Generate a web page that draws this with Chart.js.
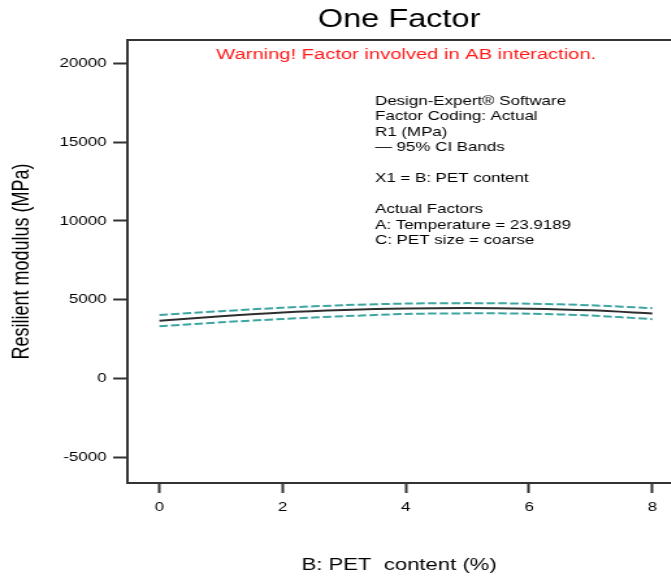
<!DOCTYPE html>
<html><head><meta charset="utf-8">
<script src="https://cdn.jsdelivr.net/npm/chart.js@4.4.1/dist/chart.umd.min.js"></script>
<style>
html,body{margin:0;padding:0;background:#fff;overflow:hidden;}
#wrap{width:516px;height:578px;transform:scaleX(1.3);transform-origin:0 0;}
canvas{display:block;}
</style></head><body>
<div id="wrap"><canvas id="c" width="516" height="578"></canvas></div>
<script>
// PET content (%) and predicted resilient modulus (MPa) with 95% CI bands
const petContent = [0, 1, 2, 3, 4, 5, 6, 7, 8];
const predicted  = [3660, 3950, 4190, 4345, 4440, 4470, 4430, 4320, 4120];
const upperCI    = [4025, 4270, 4490, 4650, 4750, 4780, 4745, 4640, 4460];
const lowerCI    = [3305, 3560, 3770, 3950, 4090, 4130, 4110, 3990, 3760];
const xTicks = [0, 2, 4, 6, 8];
const yTicks = [-5000, 0, 5000, 10000, 15000, 20000];
const titleText = 'One Factor';
const xTitle = 'B: PET  content (%)';
const yTitle = 'Resilient modulus (MPa)';
const warningText = 'Warning! Factor involved in AB interaction.';
const infoLines = ['Design-Expert® Software', 'Factor Coding: Actual', 'R1 (MPa)', '— 95% CI Bands', '',
  'X1 = B: PET content', '', 'Actual Factors', 'A: Temperature = 23.9189', 'C: PET size = coarse'];

const FONT = "'Liberation Sans', Arial, sans-serif";
const AXIS = '#333333';
const TEAL = '#3ca5a0';

const pts = ys => petContent.map((x, i) => ({x, y: ys[i]}));

const annot = {
  id: 'annot',
  afterDraw(chart) {
    const {ctx, chartArea: a} = chart;
    ctx.save();
    // top frame line
    ctx.strokeStyle = AXIS; ctx.lineWidth = 2;
    ctx.beginPath(); ctx.moveTo(a.left - 1, a.top); ctx.lineTo(a.right + 2, a.top); ctx.stroke();
    // warning
    ctx.fillStyle = '#ff1a1a';
    ctx.font = `15.5px ${FONT}`;
    ctx.textAlign = 'center'; ctx.textBaseline = 'middle';
    ctx.fillText(warningText, 312.5, 55);
    // info block
    ctx.fillStyle = '#000';
    ctx.font = `13px ${FONT}`;
    ctx.textAlign = 'left';
    infoLines.forEach((t, i) => { if (t) ctx.fillText(t, 288.5, 101 + i * 15.5); });
    ctx.restore();
  }
};

const setTicks = arr => scale => { scale.ticks = arr.map(v => ({value: v})); };

new Chart(document.getElementById('c'), {
  type: 'line',
  data: {
    datasets: [
      {data: pts(upperCI), borderColor: TEAL, borderWidth: 2, borderDash: [6.5, 2.5], pointRadius: 0, tension: 0.3, fill: false},
      {data: pts(lowerCI), borderColor: TEAL, borderWidth: 2, borderDash: [6.5, 2.5], pointRadius: 0, tension: 0.3, fill: false},
      {data: pts(predicted), borderColor: '#2e2e2e', borderWidth: 2, pointRadius: 0, tension: 0.3, fill: false}
    ]
  },
  options: {
    responsive: false,
    animation: false,
    layout: {padding: 0},
    plugins: {
      legend: {display: false},
      tooltip: {enabled: false},
      title: {display: true, text: titleText, fullSize: false, color: '#000',
        font: {family: FONT, size: 25, weight: 'normal', lineHeight: 1.2}, padding: {top: 5, bottom: 5}}
    },
    scales: {
      x: {
        type: 'linear', min: -0.52, max: 8.3,
        afterBuildTicks: setTicks(xTicks),
        afterFit: s => { s.height = 95; },
        border: {display: true, color: AXIS, width: 2},
        grid: {display: true, drawOnChartArea: false, drawTicks: true, tickLength: 10, tickWidth: 2, tickColor: AXIS},
        ticks: {color: '#000', padding: 7, font: {family: FONT, size: 13}, callback: v => String(v), maxRotation: 0},
        title: {display: true, text: xTitle, color: '#000', font: {family: FONT, size: 17}, padding: {top: 0, bottom: 2}}
      },
      y: {
        type: 'linear', min: -6650, max: 21500,
        afterBuildTicks: setTicks(yTicks),
        afterFit: s => { s.width = 98; },
        border: {display: true, color: AXIS, width: 2},
        grid: {display: true, drawOnChartArea: false, drawTicks: true, tickLength: 11, tickWidth: 2, tickColor: AXIS},
        ticks: {color: '#000', padding: 5, font: {family: FONT, size: 13}, callback: v => String(v)},
        title: {display: true, text: yTitle, color: '#000', font: {family: FONT, size: 18}, padding: {top: 6, bottom: 0}}
      }
    }
  },
  plugins: [annot]
});
</script>
</body></html>
